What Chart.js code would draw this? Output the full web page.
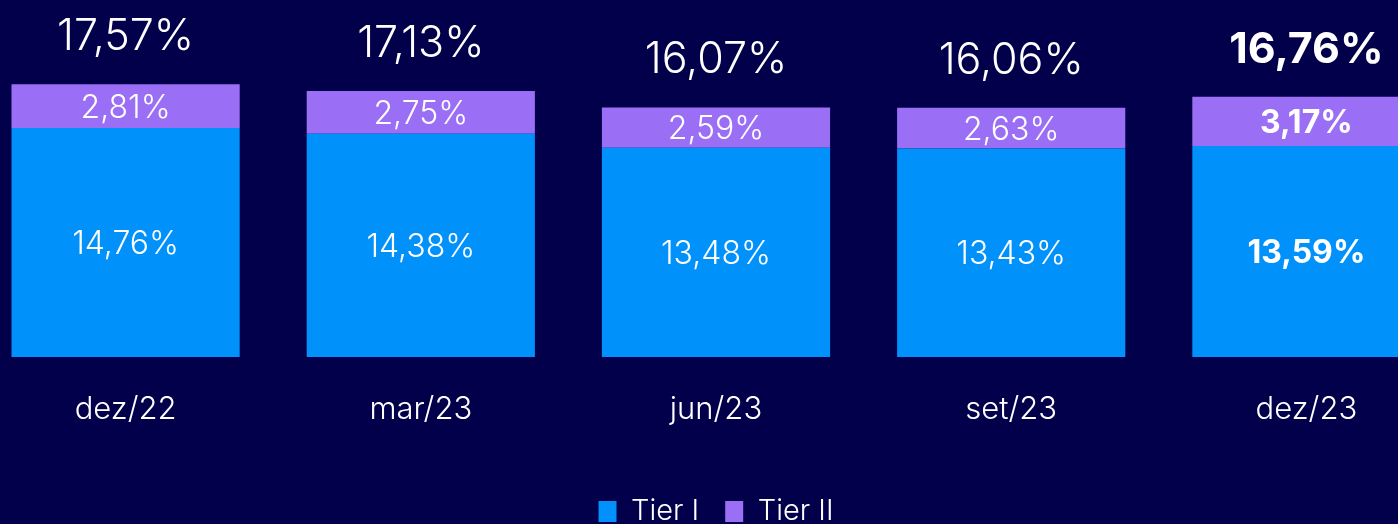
<!DOCTYPE html>
<html>
<head>
<meta charset="utf-8">
<script src="https://cdn.jsdelivr.net/npm/chart.js@4/dist/chart.umd.min.js"></script>
<style>
  html, body { margin: 0; padding: 0; background: #02004a; overflow: hidden; }
  body { width: 1398px; height: 524px; position: relative; }
  #wrap { position: absolute; left: -22px; top: 0; width: 1476px; height: 536px; }
</style>
</head>
<body>
<div id="wrap"><canvas id="myChart"></canvas></div>
<script>
const periodos = ["dez/22", "mar/23", "jun/23", "set/23", "dez/23"];
const tier1 = [14.76, 14.38, 13.48, 13.43, 13.59];
const tier2 = [2.81, 2.75, 2.59, 2.63, 3.17];
const totais = [17.57, 17.13, 16.07, 16.06, 16.76];

const FONT = "Inter, 'Open Sans', sans-serif";
const fmt = (v) => v.toFixed(2).replace(".", ",") + "%";

// labels inside each segment + total above the stack
const rotulos = {
  id: "rotulos",
  afterDatasetsDraw(chart) {
    const ctx = chart.ctx;
    ctx.save();
    ctx.fillStyle = "#ffffff";
    ctx.textAlign = "center";
    ctx.textBaseline = "middle";
    chart.data.datasets.forEach((ds, i) => {
      chart.getDatasetMeta(i).data.forEach((bar, j) => {
        const last = j === periodos.length - 1;
        ctx.font = (last ? "700 " : "300 ") + "32px " + FONT;
        ctx.fillText(fmt(ds.data[j]), bar.x, (bar.y + bar.base) / 2 + 2);
      });
    });
    const topo = chart.getDatasetMeta(1).data;
    topo.forEach((bar, j) => {
      const last = j === periodos.length - 1;
      ctx.font = (last ? "700 " : "300 ") + "43px " + FONT;
      ctx.fillText(fmt(totais[j]), bar.x, bar.y - 47);
    });
    ctx.restore();
  },
};

new Chart(document.getElementById("myChart").getContext("2d"), {
  type: "bar",
  data: {
    labels: periodos,
    datasets: [
      { label: "Tier I", data: tier1, backgroundColor: "#0091fb" },
      { label: "Tier II", data: tier2, backgroundColor: "#9a6ef5" },
    ],
  },
  options: {
    responsive: true,
    maintainAspectRatio: false,
    animation: false,
    datasets: {
      bar: { categoryPercentage: 1, barPercentage: 0.773 },
    },
    scales: {
      x: {
        stacked: true,
        grid: { display: false },
        border: { display: false },
        ticks: { color: "#ffffff", font: { family: FONT, size: 31, weight: "300" }, padding: 26 },
        afterFit(scale) {
          scale.height = 114;
        },
      },
      y: {
        stacked: true,
        display: false,
        min: 0,
        max: 23,
      },
    },
    plugins: {
      tooltip: { enabled: false },
      legend: {
        position: "bottom",
        labels: {
          color: "#ffffff",
          boxWidth: 18,
          boxHeight: 21,
          padding: 26,
          font: { family: FONT, size: 29, weight: "300" },
        },
      },
    },
  },
  plugins: [rotulos],
});
</script>
</body>
</html>
